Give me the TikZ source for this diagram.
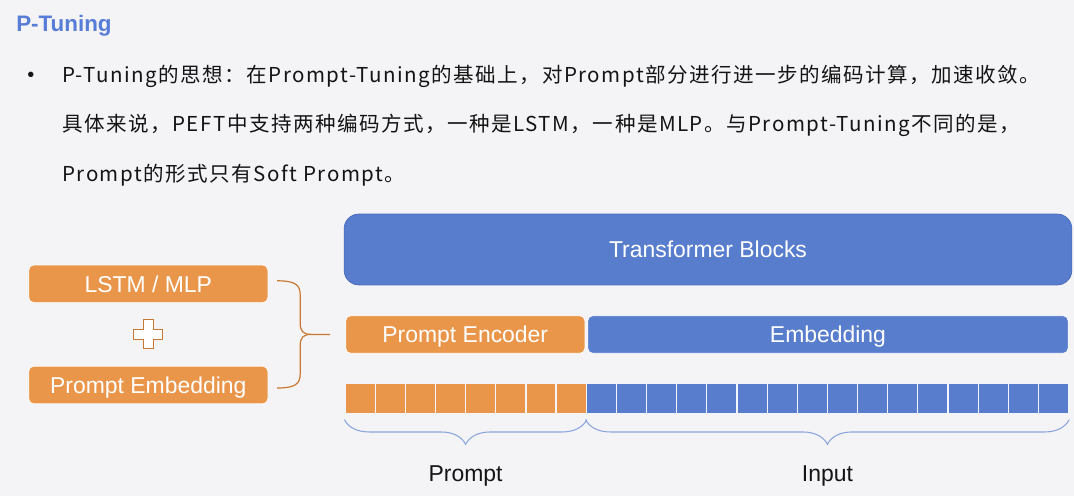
\documentclass[tikz,border=0pt]{standalone}
\usepackage{xcolor}
\usepackage{fontspec}
\setmainfont{Liberation Sans}
\newfontfamily\cjk[LetterSpace=7.3]{Noto Sans CJK SC}
\usepackage{tikz}
\usetikzlibrary{positioning,calc,decorations.pathreplacing}
\definecolor{ptOrange}{RGB}{233, 150, 74}
\definecolor{ptBlue}{RGB}{87, 125, 204}
\definecolor{ptEdge}{RGB}{72, 106, 190}
\definecolor{titleBlue}{RGB}{88, 125, 214}
\definecolor{bgColor}{RGB}{244, 244, 247}
\definecolor{braceOrange}{RGB}{200, 120, 48}
\definecolor{braceBlue}{RGB}{140, 165, 220}
\definecolor{textColor}{RGB}{20, 20, 20}

\tikzset{
    box/.style={rounded corners=3.75pt, text=white, font=\fontsize{17.2}{20}\selectfont, text height=12.3pt, text depth=0pt, inner sep=0pt, draw=white, line width=0.5pt},
    obox/.style={box, fill=ptOrange, minimum width=179.3pt, minimum height=28.2pt},
    bbox/.style={box, fill=ptBlue},
    cell/.style={draw=white!92!ptBlue, line width=0.9pt, minimum width=22.6pt, minimum height=22.8pt, inner sep=0pt},
    body/.style={anchor=base west, inner sep=0pt, text=textColor, font=\cjk\fontsize{15.4}{18}\selectfont},
    label/.style={inner sep=0pt, text=textColor, font=\fontsize{17.2}{20}\selectfont, text height=12.3pt, text depth=0pt}
}

\begin{document}
\begin{tikzpicture}[x=0.75pt, y=-0.75pt]
    \fill[bgColor] (0,0) rectangle (1074,496);
    \useasboundingbox (0,0) rectangle (1074,496);

    \node[anchor=base west, inner sep=0pt, text=titleBlue, font=\bfseries\fontsize{16.8}{20}\selectfont] (title) at (16,31.7) {P-Tuning};
    \node[inner sep=0pt, text=textColor, font=\fontsize{15}{16}\selectfont] (dot) at (31,77) {\textbullet};
    \node[body] (line1) at (62,82) {P-Tuning的思想：在Prompt-Tuning的基础上，对Prompt部分进行进一步的编码计算，加速收敛。};
    \node[body] (line2) at (62,131.5) {具体来说，PEFT中支持两种编码方式，一种是LSTM，一种是MLP。与Prompt-Tuning不同的是，};
    \node[body] (line3) at (62,181.5) {Prompt的形式只有Soft Prompt。};

    \node[bbox, rounded corners=11pt, draw=ptEdge, minimum width=545.8pt, minimum height=53.2pt] (blocks) at (708,249.5) {Transformer Blocks};
    \node[obox] (encoder) at (465.3,334.5) {Prompt Encoder};
    \node[bbox, minimum width=360.3pt, minimum height=28.2pt, right=1.7pt of encoder] (embed) {Embedding};

    \node[obox] (lstm) at (148.3,283.8) {LSTM / MLP};
    \node[obox, below=47.2pt of lstm] (pemb) {Prompt Embedding};

    \coordinate (plus) at ($(lstm.south)!0.5!(pemb.north)$);
    \draw[braceOrange, fill=white, line width=0.7pt] ($(plus)+(-5,-14.5)$) -- ++(10,0) -- ++(0,9.5) -- ++(9.5,0) -- ++(0,10) -- ++(-9.5,0) -- ++(0,9.5) -- ++(-10,0) -- ++(0,-9.5) -- ++(-9.5,0) -- ++(0,-10) -- ++(9.5,0) -- cycle;

    \coordinate (ba) at ($(lstm.east)+(9,-3)$);
    \coordinate (bb) at ($(pemb.east)+(9,3)$);
    \coordinate (bm) at ($(ba)!0.5!(bb)$);
    \draw[braceOrange, line width=0.9pt] (ba) .. controls +(18,0) and +(0,-10) .. ($(ba)+(23,14)$) -- ($(bm)+(23,-12)$) .. controls +(0,9) and +(-8,0) .. ($(bm)+(34,0)$) -- ($(bm)+(53,0)$);
    \draw[braceOrange, line width=0.9pt] (bb) .. controls +(18,0) and +(0,10) .. ($(bb)+(23,-14)$) -- ($(bm)+(23,12)$) .. controls +(0,-9) and +(-8,0) .. ($(bm)+(34,0)$);

    \foreach \i in {0,...,7}
        \node[cell, fill=ptOrange] (c\i) at ({345+30.15*(\i+0.5)},398.5) {};
    \foreach \i in {8,...,23}
        \node[cell, fill=ptBlue] (c\i) at ({345+30.15*(\i+0.5)},398.5) {};

    \draw[braceBlue, line width=0.8pt, decorate, decoration={brace, mirror, amplitude=18.5pt, raise=4pt}] (c0.south west) -- (c7.south east);
    \draw[braceBlue, line width=0.8pt, decorate, decoration={brace, mirror, amplitude=18.5pt, raise=4pt}] (c8.south west) -- (c23.south east);

    \node[label] (prompt) at ($(c0.south west)!0.5!(c7.south east)+(0,59)$) {Prompt};
    \node[label] (input) at ($(c8.south west)!0.5!(c23.south east)+(0,59)$) {Input};
\end{tikzpicture}
\end{document}
